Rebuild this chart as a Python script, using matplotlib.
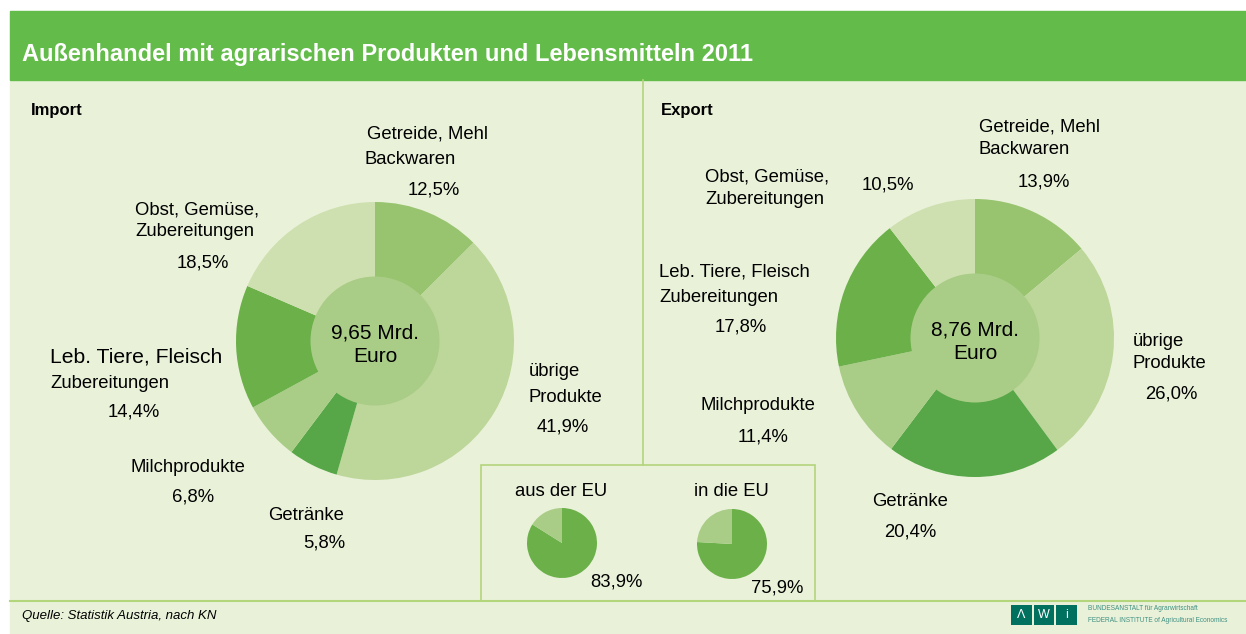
import matplotlib
matplotlib.use("Agg")
import matplotlib.pyplot as plt
from matplotlib.patches import Rectangle, Circle

plt.rcParams['font.family'] = ['Liberation Sans', 'DejaVu Sans']

# ---------------- data ----------------
categories = ["Getreide, Mehl Backwaren", "übrige Produkte", "Getränke",
              "Milchprodukte", "Leb. Tiere, Fleisch Zubereitungen",
              "Obst, Gemüse, Zubereitungen"]
import_share = [12.5, 41.9, 5.8, 6.8, 14.4, 18.5]
export_share = [13.9, 26.0, 20.4, 11.4, 17.8, 10.5]
import_total = "9,65 Mrd.\nEuro"
export_total = "8,76 Mrd.\nEuro"
eu_import = [83.9, 16.1]
eu_export = [75.9, 24.1]

slice_colors = ["#98c46f", "#bdd69a", "#57a647", "#a9cd86", "#6cb04a", "#cfe0b0"]
center_color = "#a9cd86"
bg = "#e9f2d9"
header = "#63bb4a"
line_col = "#b3d57c"

W, H = 1246, 634
fig = plt.figure(figsize=(W / 100, H / 100), dpi=100)
ax = fig.add_axes([0, 0, 1, 1])


def Y(py):
    return H - py


# backgrounds
ax.add_patch(Rectangle((10, Y(634)), W - 10, 634 - 80, color=bg, zorder=0))
ax.add_patch(Rectangle((10, Y(80)), W - 10, 80 - 11, color=header, zorder=1))
ax.plot([10, W], [Y(601), Y(601)], color=line_col, lw=1.5, zorder=2)
ax.plot([643, 643], [Y(80), Y(465)], color=line_col, lw=1.2, zorder=2)
ax.add_patch(Rectangle((481, Y(601)), 815 - 481, 601 - 465, fill=False,
                       edgecolor=line_col, lw=1.2, zorder=2))

ax.text(22, Y(54), "Außenhandel mit agrarischen Produkten und Lebensmitteln 2011",
        color="white", fontsize=17, fontweight="bold", va="center", ha="left", zorder=3)
ax.text(31, Y(110), "Import", fontsize=12, fontweight="bold", va="center")
ax.text(661, Y(110), "Export", fontsize=12, fontweight="bold", va="center")

# donuts
def donut(vals, cx, cy, total):
    ax.pie(vals, colors=slice_colors, startangle=90, counterclock=False,
           radius=139, center=(cx, Y(cy)), wedgeprops=dict(linewidth=0),
           frame=True)
    ax.add_patch(Circle((cx, Y(cy)), 64.5, color=center_color, lw=0, zorder=5))
    ax.text(cx, Y(cy + 4), total, ha="center", va="center", fontsize=15,
            linespacing=1.3, zorder=6)

donut(import_share, 375, 341, import_total)
donut(export_share, 975, 338, export_total)

# small EU pies
def small_pie(vals, cx, cy):
    ax.pie(vals, colors=["#6cb04a", "#a9cd86"], startangle=90, counterclock=False,
           radius=35, center=(cx, Y(cy)), wedgeprops=dict(linewidth=0), frame=True)

small_pie(eu_import, 562, 543)
small_pie(eu_export, 732, 544)

fs = 13.3
def t(x, y, s, size=fs, **kw):
    ax.text(x, Y(y), s, fontsize=size, va="center", ha="left", zorder=6, **kw)

fmt = lambda v: f"{v:.1f}".replace(".", ",") + "%"

# import labels
t(367, 134, "Getreide, Mehl"); t(365, 160, "Backwaren"); t(408, 190, fmt(import_share[0]))
t(135, 210, "Obst, Gemüse,"); t(135, 232, "Zubereitungen"); t(177, 263, fmt(import_share[5]))
t(50, 357, "Leb. Tiere, Fleisch", size=15.2); t(50, 383, "Zubereitungen"); t(108, 412, fmt(import_share[4]))
t(131, 467, "Milchprodukte"); t(172, 497, fmt(import_share[3]))
t(268, 515, "Getränke"); t(303, 543, fmt(import_share[2]))
t(529, 371, "übrige"); t(529, 397, "Produkte"); t(537, 427, fmt(import_share[1]))

# export labels
t(979, 127, "Getreide, Mehl"); t(979, 150, "Backwaren"); t(1018, 182, fmt(export_share[0]))
t(705, 177, "Obst, Gemüse,"); t(705, 200, "Zubereitungen"); t(862, 185, fmt(export_share[5]))
t(659, 272, "Leb. Tiere, Fleisch"); t(659, 297, "Zubereitungen"); t(715, 327, fmt(export_share[4]))
t(701, 406, "Milchprodukte"); t(738, 437, fmt(export_share[3]))
t(872, 502, "Getränke"); t(884, 532, fmt(export_share[2]))
t(1133, 341, "übrige"); t(1133, 363, "Produkte"); t(1145, 394, fmt(export_share[1]))

# EU pies labels
ax.text(561, Y(491), "aus der EU", fontsize=fs, ha="center", va="center")
ax.text(731, Y(491), "in die EU", fontsize=fs, ha="center", va="center")
t(590, 582, fmt(eu_import[0]))
t(751, 588, fmt(eu_export[0]))

# footer
ax.text(22, Y(616), "Quelle: Statistik Austria, nach KN", fontsize=9.5, style="italic",
        va="center")
logo = "#00705f"
for i, ch in enumerate(["Λ", "W", "i"]):
    x0 = 1011 + i * 22.5
    ax.add_patch(Rectangle((x0, Y(625)), 20.5, 20, color=logo, lw=0))
    ax.text(x0 + 10.25, Y(615), ch, color="white", fontsize=9, ha="center", va="center")
ax.text(1088, Y(609), "BUNDESANSTALT für Agrarwirtschaft", fontsize=4.7, color="#3f8f82",
        va="center")
ax.text(1088, Y(620), "FEDERAL INSTITUTE of Agricultural Economics", fontsize=4.7,
        color="#3f8f82", va="center")

ax.set_xlim(0, W)
ax.set_ylim(0, H)
ax.set_aspect("auto")
ax.axis("off")
fig.savefig("out.png", dpi=100, facecolor="white")
